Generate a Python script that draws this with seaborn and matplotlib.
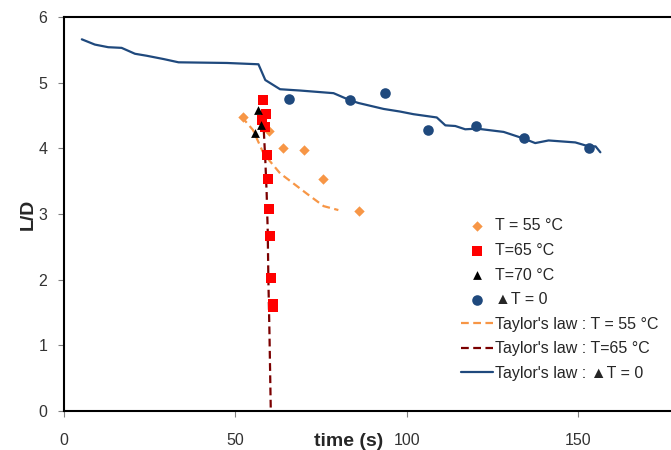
import matplotlib
matplotlib.use('Agg')
import matplotlib.pyplot as plt
import seaborn as sns

#########################
#         Data          #
#########################

# measured points
t55_time = [52.3, 59.9, 64.0, 70.0, 75.5, 86.1]
t55_ld = [4.47, 4.26, 4.00, 3.97, 3.54, 3.04]

t65_time = [58.0, 58.8, 57.7, 58.6, 59.1, 59.6, 59.8, 60.1, 60.4, 60.8, 60.9]
t65_ld = [4.73, 4.52, 4.43, 4.33, 3.90, 3.53, 3.08, 2.67, 2.02, 1.63, 1.58]

t70_time = [56.5, 57.4, 55.7]
t70_ld = [4.59, 4.36, 4.23]

dt0_time = [65.7, 83.5, 93.6, 106.1, 120.1, 134.2, 153.2]
dt0_ld = [4.75, 4.74, 4.85, 4.28, 4.34, 4.15, 4.01]

# Taylor's law curves
tay55_time = [51.8, 55.1, 58.2, 63.0, 70.8, 75.7, 80.0]
tay55_ld = [4.48, 4.28, 3.92, 3.62, 3.31, 3.12, 3.06]

tay65_time = [58.1, 58.2, 58.7, 59.1, 59.4, 59.6, 59.9, 60.3]
tay65_ld = [4.45, 4.33, 3.82, 3.31, 2.75, 1.99, 1.22, 0.0]

tay0_time = [5.2, 9.0, 12.9, 16.8, 20.7, 24.1, 29.0, 33.4, 47.5, 56.7, 58.7, 63.0,
             68.9, 78.6, 83.5, 85.9, 93.2, 98.0, 101.9, 108.7, 111.2, 114.1, 117.0,
             120.4, 128.2, 134.0, 137.4, 141.3, 149.1, 153.0, 155.0, 156.4]
tay0_ld = [5.66, 5.58, 5.54, 5.53, 5.44, 5.41, 5.36, 5.31, 5.30, 5.28, 5.04, 4.90,
           4.88, 4.84, 4.73, 4.69, 4.60, 4.56, 4.52, 4.47, 4.35, 4.34, 4.29,
           4.30, 4.25, 4.15, 4.08, 4.12, 4.09, 4.03, 4.03, 3.94]

#########################
#        Plotting       #
#########################

sns.set_theme(style='white')
plt.rcParams['font.family'] = ['Liberation Sans', 'DejaVu Sans']
plt.rcParams.update({
    'xtick.bottom': True, 'ytick.left': True,
    'xtick.direction': 'out', 'ytick.direction': 'out',
    'xtick.major.size': 4, 'ytick.major.size': 4,
    'xtick.major.width': 0.8, 'ytick.major.width': 0.8,
    'xtick.color': '#808080', 'ytick.color': '#808080',
    'xtick.labelcolor': '#333333', 'ytick.labelcolor': '#333333',
    'xtick.labelsize': 11.5, 'ytick.labelsize': 11.5,
    'xtick.major.pad': 12, 'ytick.major.pad': 8,
})

orange = '#F79646'
red = '#FF0000'
maroon = '#7B0000'
navy = '#1F497D'

fig = plt.figure(figsize=(6.71, 4.5), dpi=100)
ax = fig.add_axes([64 / 671, 39 / 450, 607 / 671, 394 / 450])

# markers
sns.scatterplot(x=t55_time, y=t55_ld, marker='D', color=orange, s=28, linewidth=0,
                label='T = 55 °C', ax=ax, zorder=4)
sns.scatterplot(x=t65_time, y=t65_ld, marker='s', color=red, s=48, linewidth=0,
                label='T=65 °C', ax=ax, zorder=4)
sns.scatterplot(x=t70_time, y=t70_ld, marker='^', color='black', s=40, linewidth=0,
                label='T=70 °C', ax=ax, zorder=5)
sns.scatterplot(x=dt0_time, y=dt0_ld, marker='o', color=navy, s=58, linewidth=0,
                label='▲T = 0', ax=ax, zorder=4)

# Taylor's law curves
sns.lineplot(x=tay55_time, y=tay55_ld, sort=False, estimator=None, color=orange,
             linewidth=1.6, label="Taylor's law : T = 55 °C", ax=ax, zorder=3)
ax.lines[-1].set_dashes([3.5, 2])
sns.lineplot(x=tay65_time, y=tay65_ld, sort=False, estimator=None, color=maroon,
             linewidth=1.6, label="Taylor's law : T=65 °C", ax=ax, zorder=3)
ax.lines[-1].set_dashes([3.5, 2])
sns.lineplot(x=tay0_time, y=tay0_ld, sort=False, estimator=None, color=navy,
             linewidth=1.6, label="Taylor's law : ▲T = 0", ax=ax, zorder=3)

ax.set_xlim(0, 177)
ax.set_ylim(0, 6)
ax.set_xticks([0, 50, 100, 150])
ax.set_yticks([0, 1, 2, 3, 4, 5, 6])

for side in ['left', 'bottom', 'top']:
    ax.spines[side].set_color('black')
    ax.spines[side].set_linewidth(1.5)
ax.spines['right'].set_visible(False)

ax.set_xlabel('time (s)', fontsize=14, fontweight='bold')
ax.set_ylabel('L/D', fontsize=14, fontweight='bold')
ax.xaxis.set_label_coords(0.469, -0.056)
ax.yaxis.set_label_coords(-0.045, 0.5)

handles, labels = ax.get_legend_handles_labels()
ax.legend(handles, labels, loc='upper left', bbox_to_anchor=(455 / 671, 1 - 212 / 450),
          bbox_transform=fig.transFigure, frameon=False, fontsize=11.5,
          handlelength=2.0, handletextpad=0.1, labelspacing=0.6, borderaxespad=0)

plt.savefig('out.png', dpi=100)
